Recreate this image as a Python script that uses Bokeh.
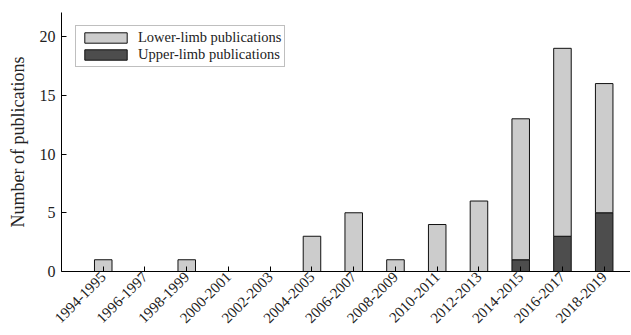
import numpy as np
from bokeh.plotting import figure
from bokeh.models import Range1d, FixedTicker, Legend, LegendItem
from bokeh.embed import file_html
from bokeh.resources import INLINE

periods = ["1994-1995", "1996-1997", "1998-1999", "2000-2001", "2002-2003",
           "2004-2005", "2006-2007", "2008-2009", "2010-2011", "2012-2013",
           "2014-2015", "2016-2017", "2018-2019"]
upper_limb = [0, 0, 0, 0, 0, 0, 0, 0, 0, 0, 1, 3, 5]
lower_limb = [1, 0, 1, 0, 0, 3, 5, 1, 4, 6, 12, 16, 11]
y_ticks = [0, 5, 10, 15, 20]

FONT = "Liberation Serif"
x = list(range(1, len(periods) + 1))
up = np.array(upper_limb, dtype=float)
low = np.array(lower_limb, dtype=float)

p = figure(width=630, height=334, output_backend="svg", toolbar_location=None,
           x_range=Range1d(0, 13.63), y_range=Range1d(0, 22.05),
           min_border_left=61, min_border_right=0, min_border_top=12,
           min_border_bottom=63)
p.outline_line_color = None
p.xgrid.visible = False
p.ygrid.visible = False
p.background_fill_color = "white"
p.border_fill_color = "white"

r_up = p.vbar(x=x, bottom=0, top=up, width=0.42, fill_color="#4d4d4d",
              line_color="#111111", line_width=1)
r_low = p.vbar(x=x, bottom=up, top=up + low, width=0.42, fill_color="#cccccc",
               line_color="#111111", line_width=1)

for ax in (p.xaxis[0], p.yaxis[0]):
    ax.axis_line_color = "black"
    ax.major_tick_line_color = "black"
    ax.major_tick_in = 5
    ax.major_tick_out = 0
    ax.minor_tick_line_color = None
    ax.major_label_text_font = FONT
    ax.major_label_text_color = "#222222"

p.xaxis.ticker = FixedTicker(ticks=x)
p.xaxis.major_label_overrides = {i: s for i, s in zip(x, periods)}
p.xaxis.major_label_orientation = np.pi / 4
p.xaxis.major_label_standoff = 3
p.xaxis.major_label_text_font_size = "15px"

p.yaxis.ticker = FixedTicker(ticks=y_ticks)
p.yaxis.major_label_standoff = 6
p.yaxis.major_label_text_font_size = "16px"
p.yaxis.axis_label = "Number of publications"
p.yaxis.axis_label_text_font = FONT
p.yaxis.axis_label_text_font_size = "18px"
p.yaxis.axis_label_text_font_style = "normal"
p.yaxis.axis_label_text_color = "#222222"
p.yaxis.axis_label_standoff = 9

legend = Legend(items=[LegendItem(label="Lower-limb publications", renderers=[r_low]),
                       LegendItem(label="Upper-limb publications", renderers=[r_up])],
                location=(14, 204))
legend.label_text_font = FONT
legend.label_text_font_size = "14.5px"
legend.label_text_color = "#222222"
legend.glyph_width = 53
legend.glyph_height = 13
legend.label_height = 13
legend.spacing = 0
legend.padding = 3
legend.margin = 0
legend.label_standoff = 6
legend.border_line_color = "#808080"
legend.border_line_width = 1
legend.background_fill_color = "white"
legend.background_fill_alpha = 1
p.add_layout(legend, "center")

open("out.html", "w").write(file_html(p, INLINE))
